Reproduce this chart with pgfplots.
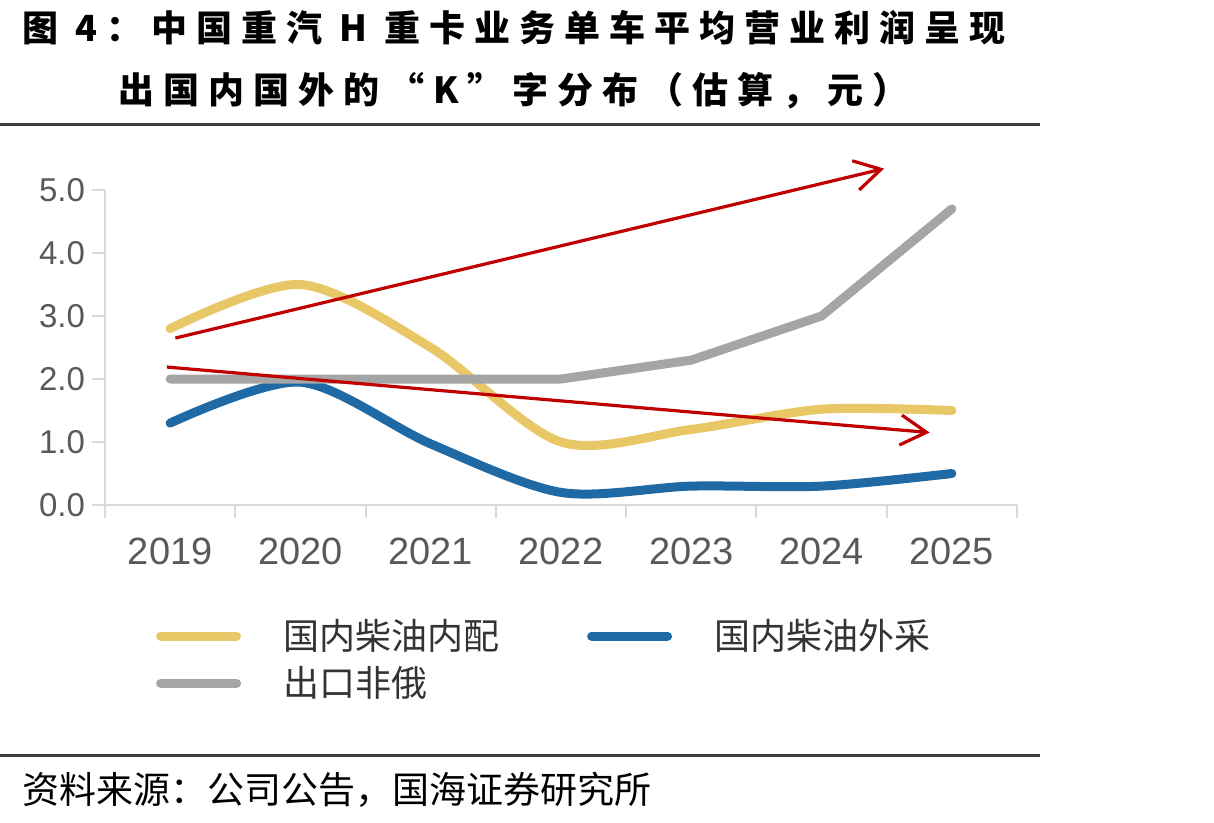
\documentclass[border=0pt]{standalone}
\usepackage{fontspec}
\setmainfont{Liberation Sans}
\newfontfamily\cjk{Noto Sans CJK SC}
\newfontfamily\cjktitle{Noto Sans CJK SC}[LetterSpace=25]
\usepackage{pgfplots}
\pgfplotsset{compat=1.18}
\usetikzlibrary{arrows.meta}
\definecolor{cyel}{HTML}{E8C766}
\definecolor{cblue}{HTML}{1F6AA5}
\definecolor{cgray}{HTML}{A5A5A5}
\definecolor{cred}{HTML}{C00000}
\definecolor{axgray}{HTML}{D9D9D9}
\definecolor{lbl}{HTML}{595959}
\begin{document}
\begin{tikzpicture}
\begin{scope}[x=0.5pt,y=-0.5pt]
\path[use as bounding box] (0,0) rectangle (1214,823);
\node[anchor=west, inner sep=0pt, font=\cjktitle\bfseries\fontsize{18pt}{18pt}\selectfont] at (22,28) {图 4：中国重汽 H 重卡业务单车平均营业利润呈现};
\node[anchor=west, inner sep=0pt, font=\cjktitle\bfseries\fontsize{18pt}{18pt}\selectfont] at (118,91) {出国内国外的“K”字分布（估算，元）};
\draw[line width=1.5pt, black!75] (0,125) -- (1040,125);
\draw[line width=1.5pt, black!75] (0,755) -- (1040,755);
\node[anchor=west, inner sep=0pt, font=\cjk\fontsize{18.5pt}{18.5pt}\selectfont] at (22,790) {资料来源：公司公告，国海证券研究所};
\end{scope}
\begin{axis}[
  at={(52.5pt,-252.5pt)}, anchor=south west,
  width=456pt, height=157.5pt, scale only axis,
  xmin=2018.5, xmax=2025.5, ymin=0, ymax=5,
  clip=false,
  axis x line*=bottom, axis y line*=left,
  axis line style={draw=axgray, line width=1pt, -},
  tick style={draw=axgray, line width=1pt},
  tick align=outside,
  major tick length=6.5pt,
  xtick={2018.5,2019.5,...,2025.5}, xticklabels={},
  extra x ticks={2019,2020,2021,2022,2023,2024,2025},
  extra x tick labels={2019,2020,2021,2022,2023,2024,2025},
  extra x tick style={major tick length=0pt, xticklabel style={yshift=-13pt}},
  xticklabel style={font=\fontsize{19pt}{19pt}\selectfont, text=lbl},
  ytick={0,1,2,3,4,5},
  yticklabel style={font=\fontsize{16.5pt}{16.5pt}\selectfont, text=lbl, /pgf/number format/.cd, fixed, fixed zerofill, precision=1},
  /pgf/number format/assume math mode=true,
  legend columns=2,
  legend cell align=left,
  legend style={at={(0.049,-0.327)}, anchor=north west, draw=none, fill=none,
    font=\cjk\fontsize{18pt}{18pt}\selectfont, text=black!80,
    nodes={inner ysep=3.5pt},
    /tikz/every odd column/.append style={column sep=19pt},
    /tikz/every even column/.append style={column sep=42pt}},
  legend image code/.code={\draw[#1, line cap=round] (0pt,0pt) -- (38pt,0pt);},
]
\addplot[cyel, line width=4.5pt, smooth, line cap=round] coordinates {(2019,2.8)(2020,3.5)(2021,2.5)(2022,1.0)(2023,1.2)(2024,1.52)(2025,1.5)};
\addlegendentry{国内柴油内配}
\addplot[cblue, line width=4.5pt, smooth, line cap=round] coordinates {(2019,1.3)(2020,1.95)(2021,0.97)(2022,0.2)(2023,0.3)(2024,0.3)(2025,0.5)};
\addlegendentry{国内柴油外采}
\addplot[cgray, line width=4.5pt, line cap=round, line join=round] coordinates {(2019,2.0)(2020,2.0)(2021,2.0)(2022,2.0)(2023,2.3)(2024,3.0)(2025,4.7)};
\addlegendentry{出口非俄}
\draw[cred, line width=1.6pt, -{Straight Barb[length=13pt,width=15pt]}] (axis cs:2019.04,2.65) -- (axis cs:2024.48,5.34);
\draw[cred, line width=1.6pt, -{Straight Barb[length=13pt,width=15pt]}] (axis cs:2018.975,2.19) -- (axis cs:2024.83,1.15);
\end{axis}
\end{tikzpicture}
\end{document}
